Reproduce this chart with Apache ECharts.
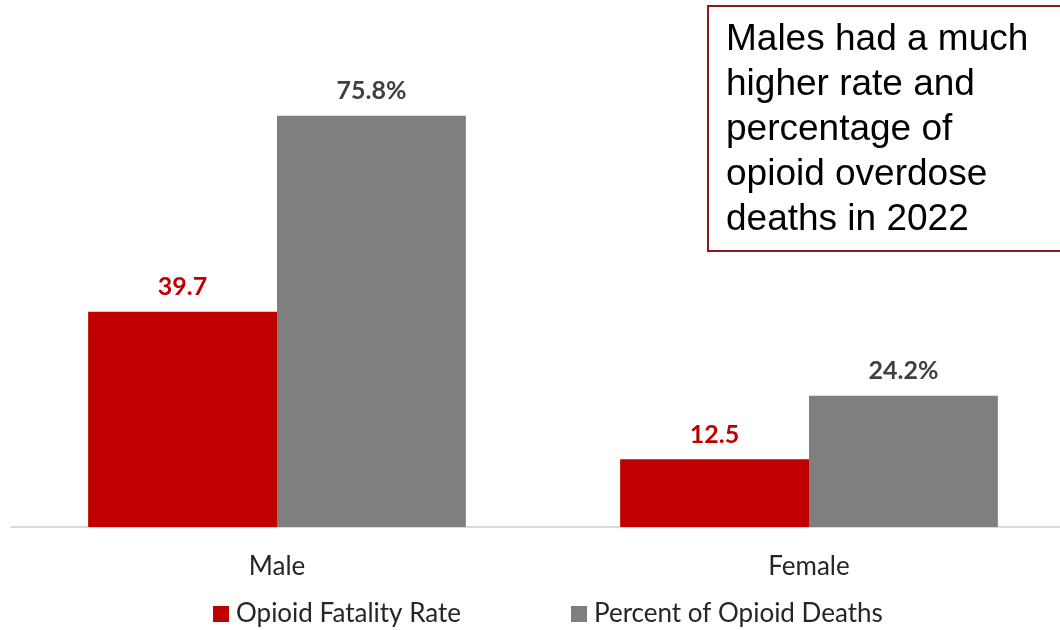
<!DOCTYPE html>
<html>
<head>
<meta charset="utf-8">
<script src="https://cdn.jsdelivr.net/npm/echarts@6/dist/echarts.min.js"></script>
<style>
  html, body { margin: 0; padding: 0; background: #fff; }
  #chart { width: 1060px; height: 630px; }
</style>
</head>
<body>
<div id="chart"></div>
<script>
// Opioid overdose deaths by sex, 2022
const categories = ['Male', 'Female'];
const fatalityRate = [39.7, 12.5];      // per 100,000
const percentDeaths = [75.8, 24.2];     // share of opioid deaths, %
const seriesNames = ['Opioid Fatality Rate', 'Percent of Opioid Deaths'];
const noteText = 'Males had a much\nhigher rate and\npercentage of\nopioid overdose\ndeaths in 2022';

const labelFont = 'Lato, "Open Sans", sans-serif';

const chart = echarts.init(document.getElementById('chart'));
chart.setOption({
  animation: false,
  backgroundColor: '#ffffff',
  // plot area runs slightly past the right edge of the canvas
  grid: {
    left: 11, width: 1064, top: 93, bottom: 103,
    containLabel: false, outerBoundsMode: 'none'
  },
  legend: {
    top: 596,
    left: 208,
    itemWidth: 16,
    itemHeight: 16,
    itemGap: 110,
    icon: 'rect',
    textStyle: { fontFamily: labelFont, fontSize: 26, color: '#262626', padding: [0, 0, 0, 2] },
    data: seriesNames
  },
  xAxis: {
    type: 'category',
    data: categories,
    axisLine: { lineStyle: { color: '#d9d9d9', width: 2 } },
    axisTick: { show: false },
    axisLabel: { fontFamily: labelFont, fontSize: 26, color: '#262626', margin: 27 }
  },
  yAxis: {
    type: 'value',
    min: 0,
    max: 80,
    show: false,
    splitLine: { show: false }
  },
  series: [
    {
      name: seriesNames[0],
      type: 'bar',
      data: fatalityRate,
      barGap: '0%',
      barCategoryGap: '29%',
      itemStyle: { color: '#c00000' },
      label: {
        show: true,
        position: 'top',
        distance: 12,
        fontFamily: labelFont,
        fontWeight: 'bold',
        fontSize: 25,
        color: '#c00000',
        formatter: p => p.value.toFixed(1)
      }
    },
    {
      name: seriesNames[1],
      type: 'bar',
      data: percentDeaths,
      barGap: '0%',
      barCategoryGap: '29%',
      itemStyle: { color: '#7f7f7f' },
      label: {
        show: true,
        position: 'top',
        distance: 12,
        fontFamily: labelFont,
        fontWeight: 'bold',
        fontSize: 25,
        color: '#404040',
        formatter: p => p.value.toFixed(1) + '%'
      }
    }
  ],
  graphic: [
    {
      type: 'rect',
      left: 707,
      top: 5,
      shape: { width: 370, height: 245 },
      style: { fill: '#ffffff', stroke: '#8b1a1a', lineWidth: 2 }
    },
    {
      type: 'text',
      left: 726,
      top: 17,
      style: {
        text: noteText,
        fontFamily: '"Liberation Sans", Arial, sans-serif',
        fontSize: 37,
        lineHeight: 45,
        fill: '#000000'
      }
    }
  ]
});
</script>
</body>
</html>
